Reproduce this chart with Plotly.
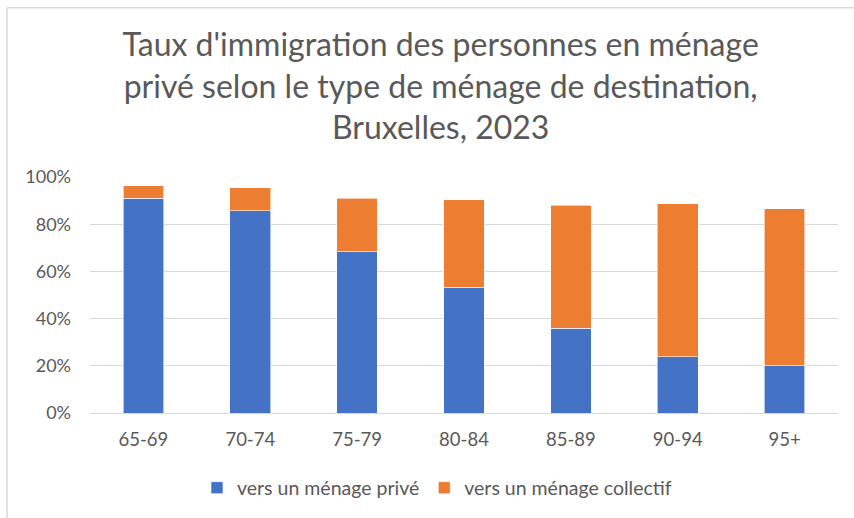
import plotly.graph_objects as go

categories = ["65-69", "70-74", "75-79", "80-84", "85-89", "90-94", "95+"]
prive = [0.911, 0.858, 0.684, 0.533, 0.359, 0.238, 0.200]
collectif = [0.052, 0.097, 0.226, 0.370, 0.521, 0.649, 0.665]
series_names = ["vers un ménage privé", "vers un ménage collectif"]
ytick_vals = [0, 0.2, 0.4, 0.6, 0.8, 1.0]
ytick_text = ["0%", "20%", "40%", "60%", "80%", "100%"]

FONT = "Lato, 'Open Sans', sans-serif"
GREY = "#595959"

fig = go.Figure()
fig.add_trace(go.Bar(x=categories, y=prive, name=series_names[0],
                     marker=dict(color="#4472C4", line=dict(color="white", width=0.6))))
fig.add_trace(go.Bar(x=categories, y=collectif, name=series_names[1],
                     marker=dict(color="#ED7D31", line=dict(color="white", width=0.6))))

W, H = 854, 518
L, R, T, B = 90, 16, 177, 104
PW, PH = W - L - R, H - T - B

fig.update_layout(
    barmode="stack",
    bargap=0.62,
    width=W, height=H,
    margin=dict(l=L, r=R, t=T, b=B),
    paper_bgcolor="white", plot_bgcolor="white",
    font=dict(family=FONT, color=GREY, size=18),
    title=dict(
        text="Taux d'immigration des personnes en ménage<br>privé selon le type de ménage de destination,<br>Bruxelles, 2023",
        x=0.516, xanchor="center", y=1 - 56 / H, yanchor="top",
        font=dict(family=FONT, size=32, color=GREY),
    ),
    showlegend=True,
    legend=dict(orientation="h", x=(437 - L) / PW, xanchor="center", y=-74 / PH, yanchor="middle",
                font=dict(size=19.5, color=GREY), itemwidth=30, traceorder="normal"),
    yaxis=dict(range=[0, 1.0], tickvals=ytick_vals, ticktext=ytick_text,
               showgrid=True, gridcolor="#d9d9d9", gridwidth=1, zeroline=False,
               showline=False, ticks="", ticklabelstandoff=18,
               tickfont=dict(size=18, color=GREY)),
    xaxis=dict(showline=True, linecolor="#d9d9d9", linewidth=1, ticks="",
               tickfont=dict(size=18.5, color=GREY), ticklabelstandoff=10),
    shapes=[
        dict(type="line", xref="paper", yref="paper", x0=(7 - L) / PW, x1=(7 - L) / PW,
             y0=1 + (T - 7) / PH, y1=-0.5, line=dict(color="#d9d9d9", width=1.5)),
        dict(type="line", xref="paper", yref="paper", x0=(7 - L) / PW, x1=1.05,
             y0=1 + (T - 7) / PH, y1=1 + (T - 7) / PH, line=dict(color="#d9d9d9", width=1.5)),
    ],
)

fig.write_html("out.html", config={"displayModeBar": False},
               post_script="document.body.style.margin='0';")
